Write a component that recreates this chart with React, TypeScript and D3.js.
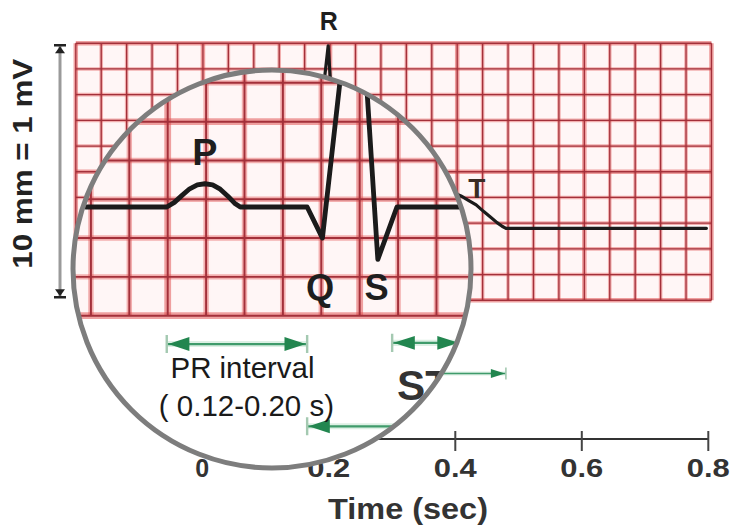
import React from "react";
import * as d3 from "d3";

// ---- data ----
const ecgTime = [-0.085, 0, 0.008, 0.016, 0.024, 0.032, 0.04, 0.048, 0.056, 0.064, 0.071, 0.077, 0.147, 0.163, 0.199, 0.221, 0.241, 0.31, 0.325, 0.34, 0.355, 0.37, 0.385, 0.398, 0.409, 0.42, 0.433, 0.445, 0.455, 0.466, 0.474, 0.48, 0.797];
const ecgMv = [0, 0, 0.012, 0.03, 0.047, 0.057, 0.06, 0.057, 0.046, 0.028, 0.01, 0, 0, -0.08, 0.71, -0.135, 0, 0, 0.015, 0.045, 0.085, 0.12, 0.138, 0.137, 0.126, 0.11, 0.091, 0.065, 0.045, 0.022, 0.008, 0, 0];

const tickValues = [0, 0.2, 0.4, 0.6, 0.8];
const tickLabels = ["0", "0.2", "0.4", "0.6", "0.8"];

const waveLabels = ["P", "Q", "R", "S", "T"];
const waveLabelTime = [0.04, 0.1605, 0.2, 0.2197, 0.434];
const waveLabelMv = [0.108, -0.24, 0.772, -0.24, 0.118];
const waveLabelSize = [25, 24, 25, 24, 28];

const intervalNames = ["PR", "ST", "QT"];
const intervalStart = [0, 0.236, 0.147];
const intervalEnd = [0.147, 0.307, 0.48];
const intervalMv = [-0.353, -0.35, -0.565];

const prText = ["PR interval", "( 0.12-0.20 s)"];
const prTextTime = [0.0793, 0.0834];
const prTextMv = [-0.44, -0.538];

const stText = "ST";
const stTextTime = 0.2411;
const stTextMv = -0.497;

const gridStartSec = -0.2;
const gridStepSec = 0.0402;
const gridCols = 25;
const gridBottomMv = -0.28;
const gridStepMv = 0.1;
const gridRows = 10;

const xTitle = "Time (sec)";
const yNote = "10 mm = 1 mV";

// ---- layout ----
const W = 732, H = 527;
const FONT = "'Liberation Sans', Arial, Helvetica, sans-serif";
const x = d3.scaleLinear().domain([0, 0.8]).range([202.3, 708.3]);
const y = d3.scaleLinear().domain([0, 1]).range([228.3, -28.7]);
const MAG = { cx: 272, cy: 270, k: 1.51 };
const CIRC = { cx: 272, cy: 269, r: 199 };

const GREEN = "#3f9b6b";
const HEAD = "#22864f";

function Interval({ t0, t1, v }: { t0: number; t1: number; v: number }) {
  const x0 = x(t0), x1 = x(t1), yy = y(v);
  const hl = 14, hh = 4.6;
  return (
    <g>
      <line x1={x0} x2={x1} y1={yy} y2={yy} stroke="#c6e6d2" strokeWidth={4} opacity={0.6} />
      <line x1={x0} x2={x1} y1={yy} y2={yy} stroke={GREEN} strokeWidth={1.5} />
      <line x1={x0} x2={x0} y1={yy - 6} y2={yy + 6} stroke="#a4c9b1" strokeWidth={1.6} />
      <line x1={x1} x2={x1} y1={yy - 6} y2={yy + 6} stroke="#a4c9b1" strokeWidth={1.6} />
      <polygon points={`${x0 + 1},${yy} ${x0 + 1 + hl},${yy - hh} ${x0 + 1 + hl},${yy + hh}`} fill={HEAD} />
      <polygon points={`${x1 - 1},${yy} ${x1 - 1 - hl},${yy - hh} ${x1 - 1 - hl},${yy + hh}`} fill={HEAD} />
    </g>
  );
}

function Content() {
  const gx0 = x(gridStartSec);
  const gx1 = x(gridStartSec + gridCols * gridStepSec);
  const gy0 = y(gridBottomMv + gridRows * gridStepMv);
  const gy1 = y(gridBottomMv);
  const cols = d3.range(gridCols + 1).map((k) => ({ k, px: x(gridStartSec + k * gridStepSec) }));
  const rows = d3.range(gridRows + 1).map((j) => ({ j, py: y(gridBottomMv + j * gridStepMv) }));
  const line = d3
    .line<number>()
    .x((_, i) => x(ecgTime[i]))
    .y((d) => y(d));
  const tracePath = line(ecgMv) || "";

  return (
    <g>
      {/* grid */}
      <rect x={gx0} y={gy0} width={gx1 - gx0} height={gy1 - gy0} fill="#fff6f6" />
      {cols.map((c) => (
        <line key={"vh" + c.k} x1={c.px} x2={c.px} y1={gy0} y2={gy1} stroke="#e04848" strokeWidth={c.k % 5 === 0 ? 4.5 : 3.6} opacity={c.k % 5 === 0 ? 0.5 : 0.4} />
      ))}
      {rows.map((r) => (
        <line key={"hh" + r.j} x1={gx0} x2={gx1} y1={r.py} y2={r.py} stroke="#e04848" strokeWidth={r.j % 5 === 0 ? 4.5 : 3.6} opacity={r.j % 5 === 0 ? 0.5 : 0.4} />
      ))}
      {cols.map((c) => (
        <line key={"v" + c.k} x1={c.px} x2={c.px} y1={gy0} y2={gy1} stroke="#a3303a" strokeWidth={1.3} />
      ))}
      {rows.map((r) => (
        <line key={"h" + r.j} x1={gx0} x2={gx1} y1={r.py} y2={r.py} stroke="#a3303a" strokeWidth={1.3} />
      ))}

      {/* ECG trace */}
      <path d={tracePath} fill="none" stroke="#1b1b1b" strokeWidth={3.2} strokeLinejoin="round" strokeLinecap="round" />

      {/* wave labels */}
      {waveLabels.map((s, i) => (
        <text
          key={"w" + s}
          x={x(waveLabelTime[i])}
          y={y(waveLabelMv[i])}
          textAnchor="middle"
          fontFamily={FONT}
          fontWeight="bold"
          fontSize={waveLabelSize[i]}
          fill={s === "T" ? "#3a2c24" : "#1e1e1e"}
        >
          {s}
        </text>
      ))}

      {/* intervals */}
      {intervalNames.map((n, i) => (
        <Interval key={n} t0={intervalStart[i]} t1={intervalEnd[i]} v={intervalMv[i]} />
      ))}
      {prText.map((s, i) => (
        <text key={"pr" + i} x={x(prTextTime[i])} y={y(prTextMv[i])} textAnchor="middle" fontFamily={FONT} fontSize={19.5} fill="#1a1a1a">
          {s}
        </text>
      ))}
      <text x={x(stTextTime)} y={y(stTextMv)} fontFamily={FONT} fontWeight="bold" fontSize={28} fill="#333">
        {stText}
      </text>

      {/* time axis */}
      <line x1={x(0)} x2={x(0.8)} y1={439} y2={439} stroke="#333" strokeWidth={2} />
      {tickValues.map((t, i) => (
        <g key={"t" + i}>
          <line x1={x(t)} x2={x(t)} y1={431} y2={451} stroke="#444" strokeWidth={2} />
          <text
            x={x(t)}
            y={477}
            textAnchor="middle"
            fontFamily={FONT}
            fontWeight="bold"
            fontSize={25}
            fill="#333"
            {...(tickLabels[i].length > 1 ? { textLength: 43, lengthAdjust: "spacingAndGlyphs" } : {})}
          >
            {tickLabels[i]}
          </text>
        </g>
      ))}
      <text x={408} y={519} textAnchor="middle" fontFamily={FONT} fontWeight="bold" fontSize={30} fill="#333" textLength={160} lengthAdjust="spacingAndGlyphs">
        {xTitle}
      </text>

      {/* voltage calibration */}
      <line x1={60} x2={60} y1={gy0 + 3} y2={gy1 - 3} stroke="#9a9a9a" strokeWidth={3} />
      <line x1={54} x2={66} y1={gy0 + 2} y2={gy0 + 2} stroke="#222" strokeWidth={2.5} />
      <polygon points={`60,${gy0 + 3} 55,${gy0 + 10} 65,${gy0 + 10}`} fill="#222" />
      <line x1={54} x2={66} y1={gy1 - 3} y2={gy1 - 3} stroke="#222" strokeWidth={2.5} />
      <polygon points={`60,${gy1 - 4} 55,${gy1 - 11} 65,${gy1 - 11}`} fill="#222" />
      <text
        transform={`translate(32,${(gy0 + gy1) / 2 - 8}) rotate(-90)`}
        textAnchor="middle"
        fontFamily={FONT}
        fontWeight="bold"
        fontSize={27}
        fill="#222"
        textLength={210}
        lengthAdjust="spacingAndGlyphs"
      >
        {yNote}
      </text>
    </g>
  );
}

export default function App() {
  const magT = `translate(${MAG.cx},${MAG.cy}) scale(${MAG.k}) translate(${-MAG.cx},${-MAG.cy})`;
  return (
    <svg width={W} height={H} viewBox={`0 0 ${W} ${H}`} style={{ position: "absolute", left: 0, top: 0, background: "#fff" }}>
      <defs>
        <clipPath id="lens">
          <circle cx={CIRC.cx} cy={CIRC.cy} r={CIRC.r} />
        </clipPath>
      </defs>
      <rect width={W} height={H} fill="#fff" />
      <Content />
      <circle cx={CIRC.cx} cy={CIRC.cy} r={CIRC.r} fill="#fff" />
      <g clipPath="url(#lens)">
        <g transform={magT}>
          <Content />
        </g>
      </g>
      <circle cx={CIRC.cx} cy={CIRC.cy} r={CIRC.r} fill="none" stroke="#7d7d7d" strokeWidth={5} />
    </svg>
  );
}
